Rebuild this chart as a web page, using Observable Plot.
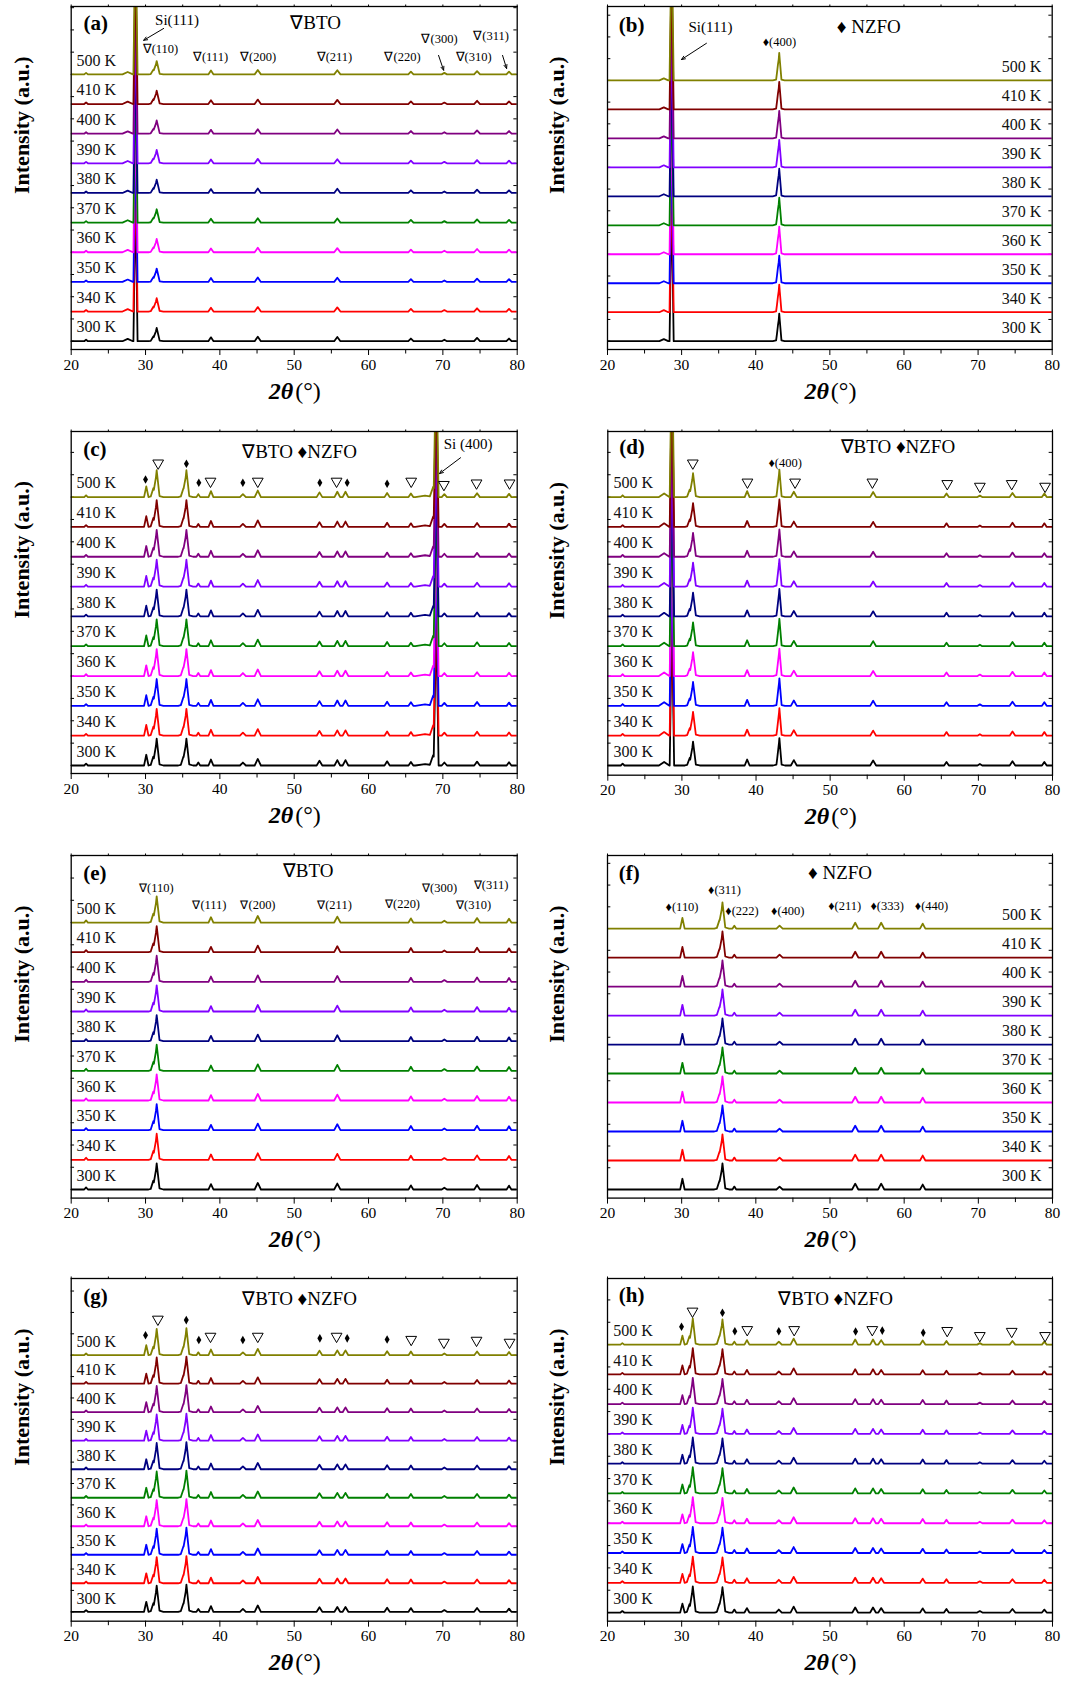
<!DOCTYPE html>
<html><head><meta charset="utf-8">
<script src="https://cdn.jsdelivr.net/npm/d3@7"></script>
<script src="https://cdn.jsdelivr.net/npm/@observablehq/plot@0.6"></script>
<style>
html,body{margin:0;padding:0;background:#fff}
#root{position:relative;width:1083px;height:1688px;overflow:hidden;background:#fff}
.panel{position:absolute}
</style></head><body>
<div id="root"></div>
<script>
// ---------- data ----------
const temperatures = ["300 K","340 K","350 K","360 K","370 K","380 K","390 K","400 K","410 K","500 K"];
const traceColors  = ["#000000","#ff0000","#0000ff","#ff00ff","#008000","#000080","#8000ff","#800080","#800000","#808000"];
const majorTicks = [20,30,40,50,60,70,80];
const minorTicks = [25,35,45,55,65,75];
const topTicks = [20,25,30,35,40,45,50,55,60,65,70,75,80];

// peaks: [2θ (°), height (in trace-spacing units), half width (°)]
const peaksA = [[22.0,0.05,0.25],[27.6,0.08,0.7],[28.65,5,0.28],[31.05,0.16,0.35],[31.5,0.45,0.4],[31.4,0.04,1.0],[38.8,0.13,0.35],[45.1,0.15,0.42],[55.8,0.14,0.42],[65.7,0.09,0.35],[70.2,0.05,0.35],[74.6,0.11,0.4],[78.9,0.09,0.35]];
const peaksB = [[27.6,0.07,0.6],[28.65,5,0.28],[43.0,0.55,0.25],[43.17,0.95,0.3],[43.1,0.05,0.8]];
const peaksC = [[22.0,0.06,0.25],[30.1,0.36,0.3],[31.05,0.3,0.35],[31.5,0.9,0.38],[31.4,0.07,1.0],[35.1,0.3,0.35],[35.5,0.9,0.38],[35.4,0.07,1.0],[37.1,0.1,0.25],[38.8,0.2,0.33],[43.1,0.1,0.4],[45.1,0.22,0.42],[53.4,0.16,0.38],[55.8,0.18,0.38],[56.9,0.18,0.38],[62.5,0.14,0.35],[65.7,0.12,0.32],[67.6,0.05,1.3],[68.7,0.35,0.45],[69.1,5,0.33],[70.2,0.1,0.35],[74.6,0.13,0.38],[78.9,0.11,0.32]];
const peaksD = [[22.0,0.06,0.25],[27.6,0.12,0.7],[28.65,5,0.3],[31.05,0.25,0.35],[31.5,0.8,0.38],[31.4,0.06,1.0],[38.8,0.2,0.33],[43.0,0.55,0.25],[43.15,0.92,0.3],[43.1,0.05,0.8],[45.1,0.18,0.4],[55.8,0.17,0.4],[65.7,0.12,0.32],[70.2,0.05,0.32],[74.6,0.14,0.38],[78.9,0.12,0.32]];
const peaksE = [[22.0,0.07,0.25],[31.05,0.3,0.35],[31.5,0.88,0.38],[31.4,0.07,1.0],[38.8,0.18,0.33],[45.1,0.22,0.42],[55.8,0.2,0.42],[65.7,0.14,0.32],[70.2,0.06,0.35],[74.6,0.15,0.38],[78.9,0.13,0.32]];
const peaksF = [[30.1,0.37,0.3],[35.1,0.3,0.35],[35.5,0.9,0.38],[35.4,0.07,1.0],[37.1,0.1,0.25],[43.2,0.1,0.42],[53.4,0.2,0.42],[56.9,0.2,0.42],[62.5,0.17,0.36]];
const peaksG = [[22.0,0.06,0.25],[30.1,0.35,0.3],[31.05,0.3,0.35],[31.5,0.92,0.38],[31.4,0.07,1.0],[35.1,0.3,0.35],[35.5,0.95,0.38],[35.4,0.07,1.0],[37.1,0.1,0.25],[38.8,0.2,0.33],[43.1,0.1,0.4],[45.1,0.22,0.42],[53.4,0.16,0.38],[55.8,0.17,0.38],[56.9,0.17,0.38],[62.5,0.14,0.35],[65.7,0.13,0.32],[70.2,0.06,0.35],[74.6,0.13,0.38],[78.9,0.11,0.32]];
const peaksH = [[22.0,0.05,0.25],[30.1,0.3,0.3],[31.05,0.28,0.35],[31.5,0.88,0.38],[31.4,0.07,1.0],[35.1,0.3,0.35],[35.5,0.85,0.38],[35.4,0.07,1.0],[37.1,0.1,0.25],[38.8,0.15,0.33],[43.1,0.1,0.4],[45.1,0.2,0.42],[53.4,0.17,0.38],[55.8,0.17,0.38],[56.9,0.15,0.38],[62.5,0.14,0.35],[65.7,0.12,0.32],[70.2,0.05,0.35],[74.6,0.12,0.38],[78.9,0.1,0.32]];

// panel letters, headers
const letters = ["(a)","(b)","(c)","(d)","(e)","(f)","(g)","(h)"];
const headers = ["∇BTO","♦ NZFO","∇BTO ♦NZFO","∇BTO ♦NZFO","∇BTO","♦ NZFO","∇BTO ♦NZFO","∇BTO ♦NZFO"];

// small peak labels: [text, 2θ, level]
const notesA = [["∇(110)",32.01,9.84],["∇(111)",38.74,9.57],["∇(200)",45.13,9.57],["∇(211)",55.42,9.57],["∇(220)",64.57,9.57],["∇(300)",69.55,10.18],["∇(310)",74.13,9.57],["∇(311)",76.48,10.28]];
const notesB = [["♦(400)",43.19,10.31]];
const notesD = [["♦(400)",43.93,10.14]];
const notesE = [["∇(110)",31.45,10.15],["∇(111)",38.6,9.6],["∇(200)",45.13,9.6],["∇(211)",55.42,9.6],["∇(220)",64.57,9.62],["∇(300)",69.55,10.17],["∇(310)",74.13,9.6],["∇(311)",76.48,10.27]];
const notesF = [["♦(110)",30.05,9.76],["♦(311)",35.78,10.33],["♦(222)",38.14,9.61],["♦(400)",44.3,9.61],["♦(211)",51.98,9.78],["♦(333)",57.71,9.78],["♦(440)",63.68,9.78]];
// substrate labels
const siNotesA = [["Si(111)",34.23,10.82]];
const siNotesB = [["Si(111)",33.89,10.83]];
const siNotesC = [["Si (400)",73.39,10.77]];
// arrows: [from 2θ, from level, to 2θ, to level]
const arrowsA = [[32.44,10.55,29.75,10.15],[69.42,9.64,70.1,9.14],[78.03,9.64,78.57,9.2]];
const arrowsB = [[33.35,10.28,29.98,9.72]];
const arrowsC = [[72.38,10.32,69.55,9.79]];
// phase markers: [2θ, level]
const triC = [[31.7,10.14],[38.74,9.53],[45.1,9.53],[55.7,9.53],[65.74,9.53],[70.14,9.42],[74.53,9.47],[78.97,9.47]];
const diaC = [[30.0,9.59],[35.5,10.12],[37.17,9.48],[43.09,9.48],[53.45,9.48],[57.13,9.48],[62.5,9.45]];
const triD = [[31.47,10.14],[38.84,9.5],[45.27,9.5],[55.7,9.5],[65.8,9.45],[70.2,9.36],[74.5,9.45],[79.0,9.36]];
const triG = [[31.66,10.26],[38.74,9.66],[45.1,9.66],[55.7,9.66],[65.74,9.55],[70.14,9.45],[74.53,9.52],[78.97,9.45]];
const diaG = [[30.0,9.7],[35.48,10.23],[37.17,9.53],[43.09,9.53],[53.45,9.59],[57.13,9.59],[62.5,9.55]];
const triH = [[31.46,10.12],[38.84,9.5],[45.17,9.5],[55.7,9.5],[65.8,9.47],[70.2,9.3],[74.5,9.44],[79.0,9.3]];
const diaH = [[29.98,9.6],[35.5,10.07],[37.17,9.45],[43.1,9.45],[53.45,9.44],[57.05,9.47],[62.57,9.4]];

// ---------- layout (page pixels) ----------
const SERIF = "'Liberation Serif','Times New Roman',Times,serif";
const layout = [
  {peaks:peaksA, left:70.7, right:516.7, top:6,     bottom:349,    y:[-0.28,11.29], tx:20.71, ta:"start", notes:notesA, si:siNotesA, arrows:arrowsA, hx:52.87, hy:10.72, lx:21.66, ly:10.72},
  {peaks:peaksB, left:607,  right:1051.7,top:6,     bottom:349,    y:[-0.287,11.55],tx:78.52, ta:"end",   notes:notesB, si:siNotesB, arrows:arrowsB, hx:55.25, hy:10.83, lx:21.53, ly:10.9},
  {peaks:peaksC, left:70.7, right:516.7, top:431,   bottom:773,    y:[-0.268,11.2], tx:20.71, ta:"start", si:siNotesC, arrows:arrowsC, tri:triC, dia:diaC, hx:50.72, hy:10.51, lx:21.61, ly:10.62},
  {peaks:peaksD, left:607.3,right:1052,  top:431,   bottom:774.7,  y:[-0.325,11.2], tx:20.77, ta:"start", notes:notesD, tri:triD, hx:59.13, hy:10.7, lx:21.53, ly:10.68},
  {peaks:peaksE, left:70.7, right:516.7, top:854.7, bottom:1197.3, y:[-0.29,11.26], tx:20.71, ta:"start", notes:notesE, hx:51.87, hy:10.74, lx:21.61, ly:10.66},
  {peaks:peaksF, left:607,  right:1052,  top:854.7, bottom:1197.3, y:[-0.297,11.52],tx:78.52, ta:"end",   notes:notesF, hx:51.35, hy:10.92, lx:21.53, ly:10.91},
  {peaks:peaksG, left:70.7, right:516.7, top:1278,  bottom:1620.7, y:[-0.33,11.69], tx:20.71, ta:"start", tri:triG, dia:diaG, hx:50.72, hy:10.96, lx:21.61, ly:11.05},
  {peaks:peaksH, left:607,  right:1052,  top:1278,  bottom:1620.7, y:[-0.29,11.22], tx:20.77, ta:"start", tri:triH, dia:diaH, hx:50.75, hy:10.52, lx:21.53, ly:10.65}
];

function profile(peaks) {
  const xs = new Set([20, 80]);
  for (const [c, , w] of peaks) { xs.add(c - w); xs.add(c); xs.add(c + w); }
  return [...xs].filter(x => x >= 20 && x <= 80).sort((a, b) => a - b)
    .map(x => [x, d3.max(peaks, ([c, h, w]) => Math.max(0, h * (1 - Math.abs(x - c) / w)))]);
}

const root = document.getElementById("root");
layout.forEach((p, k) => {
  const colLeft = k % 2 === 0 ? 0 : 541;
  const colW = k % 2 === 0 ? 541 : 542;
  const mT = 6, mB = 72;
  const mL = p.left - colLeft, mR = colLeft + colW - p.right;
  const prof = profile(p.peaks);
  const rows = [];
  temperatures.forEach((t, i) => prof.forEach(([x, v]) => rows.push({temp: t, x, y: i + v})));
  const tempRows = temperatures.map((t, i) => ({t, x: p.tx, y: i + 0.47}));
  const yTicks = d3.range(Math.ceil(p.y[0] / 0.75) * 0.75, p.y[1], 0.75);

  const marks = [
    Plot.ruleY(yTicks, {x1: 20, x2: 20.45, stroke: "black", strokeWidth: 1}),
    Plot.ruleY(yTicks, {x1: 79.55, x2: 80, stroke: "black", strokeWidth: 1}),
    Plot.line(rows, {x: "x", y: "y", z: "temp", stroke: "temp", strokeWidth: 1.8, clip: true}),
    Plot.frame({stroke: "black", strokeWidth: 1.3}),
    Plot.axisX({ticks: majorTicks, tickSize: 6, tickPadding: 3, fontSize: 15.5, fontFamily: SERIF, label: null}),
    Plot.axisX({ticks: minorTicks, tickSize: 4.5, tickFormat: () => "", label: null}),
    Plot.axisX({anchor: "top", ticks: topTicks, tickSize: 2.5, tickFormat: () => "", label: null}),
    Plot.text(tempRows, {x: "x", y: "y", text: "t", textAnchor: p.ta, fontSize: 16, fontFamily: SERIF, fill: "#111"}),
    Plot.text([letters[k]], {x: () => p.lx, y: () => p.ly, text: d => d, textAnchor: "start", fontSize: 21, fontWeight: "bold", fontFamily: SERIF}),
    Plot.text([headers[k]], {x: () => p.hx, y: () => p.hy, text: d => d, fontSize: 19, fontFamily: SERIF}),
    Plot.text(["2θ"], {frameAnchor: "bottom", text: d => d, textAnchor: "end", dx: -1, dy: 49, fontSize: 24, fontWeight: "bold", fontStyle: "italic", fontFamily: SERIF}),
    Plot.text(["(°)"], {frameAnchor: "bottom", text: d => d, textAnchor: "start", dx: 1, dy: 49, fontSize: 24, fontFamily: SERIF}),
    Plot.text(["Intensity (a.u.)"], {frameAnchor: "left", text: d => d, rotate: -90, dx: (k % 2 === 0 ? 21.7 : 15.7) - mL, dy: 16, fontSize: 22, fontWeight: "bold", fontFamily: SERIF})
  ];
  if (p.notes) marks.push(Plot.text(p.notes, {x: d => d[1], y: d => d[2], text: d => d[0], fontSize: 12.5, fontFamily: SERIF}));
  if (p.si) marks.push(Plot.text(p.si, {x: d => d[1], y: d => d[2], text: d => d[0], fontSize: 15, fontFamily: SERIF}));
  if (p.arrows) marks.push(Plot.arrow(p.arrows, {x1: d => d[0], y1: d => d[1], x2: d => d[2], y2: d => d[3], stroke: "black", strokeWidth: 1, headLength: 6, headAngle: 45}));
  if (p.tri) marks.push(Plot.dot(p.tri, {x: d => d[0], y: d => d[1], symbol: "triangle", rotate: 180, r: 4, fill: "white", stroke: "black", strokeWidth: 1}));
  if (p.dia) marks.push(Plot.dot(p.dia, {x: d => d[0], y: d => d[1], symbol: "diamond", r: 2.6, fill: "black", stroke: "none"}));

  const svg = Plot.plot({
    width: colW,
    height: mT + (p.bottom - p.top) + mB,
    marginTop: mT, marginBottom: mB, marginLeft: mL, marginRight: mR,
    style: {fontFamily: SERIF, background: "white", overflow: "visible", color: "black"},
    x: {domain: [20, 80]},
    y: {domain: p.y, axis: null},
    color: {domain: temperatures, range: traceColors},
    marks
  });
  const div = document.createElement("div");
  div.className = "panel";
  div.style.left = colLeft + "px";
  div.style.top = (p.top - mT) + "px";
  div.appendChild(svg);
  root.appendChild(div);
});
</script></body></html>
